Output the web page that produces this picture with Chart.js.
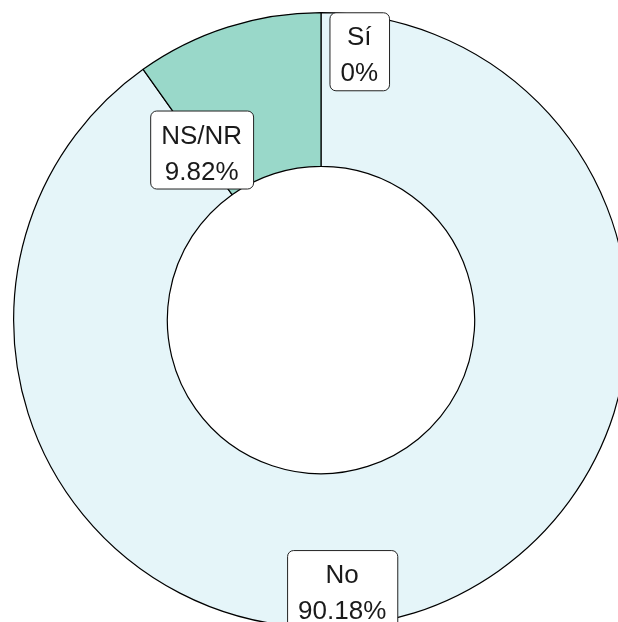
<!DOCTYPE html>
<html>
<head>
<meta charset="utf-8">
<script src="https://cdn.jsdelivr.net/npm/chart.js@4/dist/chart.umd.min.js"></script>
<style>
  html, body { margin: 0; padding: 0; width: 618px; height: 622px; overflow: hidden; background: #fff; }
  #wrap { position: absolute; left: 13px; top: 12px; width: 616px; height: 616px; }
</style>
</head>
<body>
<div id="wrap"><canvas id="donut" width="616" height="616"></canvas></div>
<script>
// categories in clockwise order from 12 o'clock
const categories = ["Sí", "No", "NS/NR"];
const shares = [0, 90.18, 9.82];
const sliceColors = ["#2CA25F", "#E5F5F9", "#99D8C9"];

// where each label box sits: angle (deg, clockwise from top) and radius as fraction of outer radius
const labelSpots = [
  { angle: 8.1, r: 0.883 },
  { angle: 175.5, r: 0.878 },
  { angle: -35, r: 0.677 },
];

const boxLabels = {
  id: "boxLabels",
  afterDraw(chart) {
    const ctx = chart.ctx;
    const arcs = chart.getDatasetMeta(0).data;
    const cx = arcs[0].x, cy = arcs[0].y, R = arcs[0].outerRadius;
    ctx.save();
    ctx.font = "26px 'Liberation Sans', Arial, sans-serif";
    ctx.textAlign = "center";
    ctx.textBaseline = "alphabetic";
    categories.forEach(function (cat, i) {
      const spot = labelSpots[i];
      const a = spot.angle * Math.PI / 180;
      const x = cx + spot.r * R * Math.sin(a);
      const y = cy - spot.r * R * Math.cos(a);
      const line1 = cat;
      const line2 = shares[i] + "%";
      const w = Math.max(ctx.measureText(line1).width, ctx.measureText(line2).width) + 22;
      const h = 78;
      const left = x - w / 2, top = y - h / 2;
      ctx.beginPath();
      ctx.roundRect(left + 0.5, top + 0.5, w, h, 6);
      ctx.fillStyle = "#ffffff";
      ctx.fill();
      ctx.lineWidth = 1;
      ctx.strokeStyle = "#222";
      ctx.stroke();
      ctx.fillStyle = "#1a1a1a";
      ctx.fillText(line1, x, top + 33);
      ctx.fillText(line2, x, top + 69);
    });
    ctx.restore();
  },
};

new Chart(document.getElementById("donut").getContext("2d"), {
  type: "doughnut",
  data: {
    labels: categories,
    datasets: [
      {
        data: shares,
        backgroundColor: sliceColors,
        borderColor: "#000",
        borderWidth: 1.2,
      },
    ],
  },
  options: {
    responsive: false,
    animation: false,
    cutout: "50%",
    layout: { padding: 0 },
    plugins: {
      legend: { display: false },
      tooltip: { enabled: false },
    },
  },
  plugins: [boxLabels],
});
</script>
</body>
</html>
